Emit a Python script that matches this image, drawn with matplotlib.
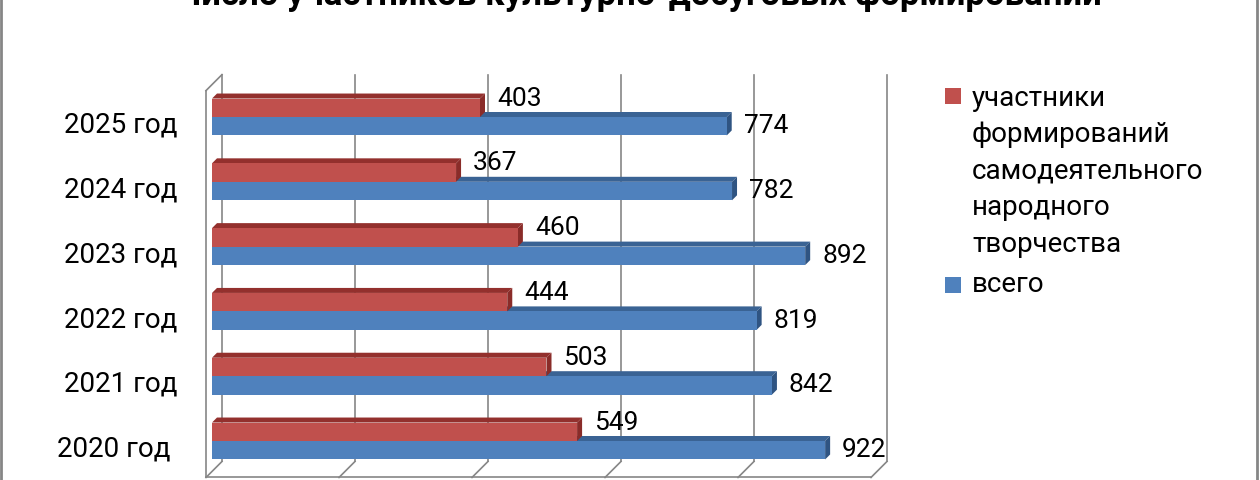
import numpy as np
import matplotlib
matplotlib.use("Agg")
import matplotlib.pyplot as plt
from matplotlib.patches import Polygon, Rectangle

plt.rcParams['font.family'] = ['Roboto', 'DejaVu Sans']

# ---------- data ----------
title = "Число участников культурно-досуговых формирований"
years = ["2020 год ", "2021 год", "2022 год", "2023 год", "2024 год", "2025 год"]
participants = [549, 503, 444, 460, 367, 403]   # участники формирований самодеятельного народного творчества
total = [922, 842, 819, 892, 782, 774]           # всего
series_names = ["участники\nформирований\nсамодеятельного\nнародного\nтворчества", "всего"]
x_ticks = [0, 200, 400, 600, 800, 1000]

# ---------- style / geometry ----------
W, H = 1260, 480
RED, RED_TOP, RED_END = "#C0504D", "#93302D", "#8A2C29"
BLUE, BLUE_TOP, BLUE_END = "#4F81BD", "#3A6394", "#2F5482"
GRID = "#868686"

x_left_px, px_per_unit = 212, 0.665      # front plane of bars
y0_px, px_per_cat = 441, 64.8             # boundary red/blue for first category
ylim = (-0.47, 5.5)
xlim = (0, 1000)

def fx(px):
    return px / W

def fy(py):
    return 1 - py / H

fig = plt.figure(figsize=(W / 100, H / 100), dpi=100)
ax_bottom_px = y0_px - ylim[0] * px_per_cat
ax_top_px = y0_px - ylim[1] * px_per_cat
ax = fig.add_axes([fx(x_left_px), fy(ax_bottom_px),
                   xlim[1] * px_per_unit / W, (ax_bottom_px - ax_top_px) / H])
ax.set_xlim(*xlim)
ax.set_ylim(*ylim)
for s in ax.spines.values():
    s.set_visible(False)
ax.set_xticks([])
ax.patch.set_alpha(0)

# px offsets -> data offsets
def dpx(px_x, px_y):
    return px_x / px_per_unit, -px_y / px_per_cat

back = dpx(10, -10)     # back wall relative to bar front plane
front = dpx(-6, 6)      # front edge of floor / left wall
bar_d = dpx(5, -5)      # bar depth

# walls and gridlines
yb, yt = ylim
for t in x_ticks:
    ax.plot([t + back[0]] * 2, [yb + back[1], yt + back[1]], color=GRID, lw=1.2, clip_on=False, zorder=1)
    ax.plot([t + back[0], t + front[0]], [yb + back[1], yb + front[1]], color=GRID, lw=1.2, clip_on=False, zorder=1)
ax.plot([front[0], x_ticks[-1] + front[0]], [yb + front[1]] * 2, color=GRID, lw=1.2, clip_on=False, zorder=1)
ax.plot([front[0]] * 2, [yb + front[1], yt + front[1]], color=GRID, lw=1.2, clip_on=False, zorder=1)
ax.plot([front[0], back[0]], [yt + front[1], yt + back[1]], color=GRID, lw=1.2, clip_on=False, zorder=1)

# bars
h = 0.285
pos = np.arange(len(years))
dx, dy = bar_d

def faces(v, y_lo, y_hi, top_c, end_c, z):
    ax.add_patch(Polygon([(0, y_hi), (v, y_hi), (v + dx, y_hi + dy), (dx, y_hi + dy)],
                         closed=True, facecolor=top_c, edgecolor="none", zorder=z))
    ax.add_patch(Polygon([(v, y_lo), (v, y_hi), (v + dx, y_hi + dy), (v + dx, y_lo + dy)],
                         closed=True, facecolor=end_c, edgecolor="none", zorder=z))

ax.barh(pos - h / 2, total, height=h, color=BLUE, zorder=3)
ax.barh(pos + h / 2, participants, height=h, color=RED, zorder=5)
for p, vr, vb in zip(pos, participants, total):
    faces(vb, p - h, p, BLUE_TOP, BLUE_END, 2)
    faces(vr, p, p + h, RED_TOP, RED_END, 4)
    lab_dx = 17 / px_per_unit
    ax.text(vr + lab_dx, p + h / 2 + 0.14, str(vr), fontsize=19, va="center", ha="left", zorder=6)
    ax.text(vb + lab_dx, p - h / 2, str(vb), fontsize=19, va="center", ha="left", zorder=6)

ax.set_yticks(pos - 0.08)
ax.set_yticklabels(years, fontsize=20)
ax.tick_params(axis="y", length=0, pad=35 * 0.72)

# title (cut at the top like the source)
fig.text(fx(639), fy(5), title, ha="center", va="baseline", fontsize=25, fontweight="bold")

# legend
sq = 16
leg_x = 945
fig.add_artist(Rectangle((fx(leg_x), fy(88 + sq)), sq / W, sq / H, transform=fig.transFigure,
                         facecolor=RED, edgecolor="none"))
fig.add_artist(Rectangle((fx(leg_x), fy(277 + sq)), sq / W, sq / H, transform=fig.transFigure,
                         facecolor=BLUE, edgecolor="none"))
fig.text(fx(972), fy(85), series_names[0], fontsize=20, va="top", ha="left", linespacing=1.45)
fig.text(fx(972), fy(292), series_names[1], fontsize=20, va="baseline", ha="left")

# chart border
fig.add_artist(Rectangle((fx(1), -0.1), (W - 4) / W, 1.2, transform=fig.transFigure,
                         fill=False, edgecolor=GRID, lw=2))

fig.savefig("out.png", dpi=100)
